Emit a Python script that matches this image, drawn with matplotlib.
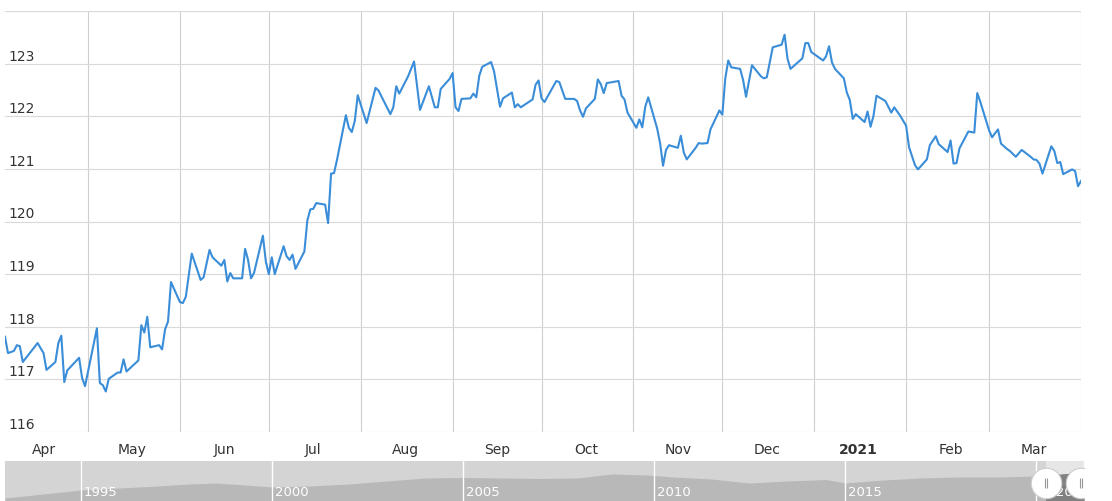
import pandas as pd
import matplotlib.pyplot as plt
import matplotlib.dates as mdates
import matplotlib.transforms as mtransforms
from matplotlib.patches import Rectangle

# price series (Apr 2020 - Apr 2021)
dates = [
    '2020-04-03', '2020-04-04', '2020-04-06', '2020-04-07', '2020-04-08', '2020-04-09', '2020-04-14', '2020-04-16',
    '2020-04-17', '2020-04-20', '2020-04-21', '2020-04-22', '2020-04-23', '2020-04-24', '2020-04-28', '2020-04-29',
    '2020-04-30',
    '2020-05-04', '2020-05-05', '2020-05-06', '2020-05-07', '2020-05-08', '2020-05-11', '2020-05-12', '2020-05-13',
    '2020-05-14', '2020-05-18', '2020-05-19', '2020-05-20', '2020-05-21', '2020-05-22', '2020-05-25', '2020-05-26',
    '2020-05-27', '2020-05-28', '2020-05-29',
    '2020-06-01', '2020-06-02', '2020-06-03', '2020-06-05', '2020-06-08', '2020-06-09', '2020-06-11', '2020-06-12',
    '2020-06-15', '2020-06-16', '2020-06-17', '2020-06-18', '2020-06-19', '2020-06-22', '2020-06-23', '2020-06-24',
    '2020-06-25', '2020-06-26', '2020-06-29', '2020-06-30',
    '2020-07-01', '2020-07-02', '2020-07-03', '2020-07-06', '2020-07-07', '2020-07-08', '2020-07-09', '2020-07-10',
    '2020-07-13', '2020-07-14', '2020-07-15', '2020-07-16', '2020-07-17', '2020-07-20', '2020-07-21', '2020-07-22',
    '2020-07-23', '2020-07-24', '2020-07-27', '2020-07-28', '2020-07-29', '2020-07-30', '2020-07-31',
    '2020-08-03', '2020-08-06', '2020-08-07', '2020-08-11', '2020-08-12', '2020-08-13', '2020-08-14', '2020-08-17',
    '2020-08-19', '2020-08-21', '2020-08-24', '2020-08-26', '2020-08-27', '2020-08-28', '2020-08-31',
    '2020-09-01', '2020-09-02', '2020-09-03', '2020-09-04', '2020-09-07', '2020-09-08', '2020-09-09', '2020-09-10',
    '2020-09-11', '2020-09-14', '2020-09-15', '2020-09-17', '2020-09-18', '2020-09-21', '2020-09-22', '2020-09-23',
    '2020-09-24', '2020-09-28', '2020-09-29', '2020-09-30',
    '2020-10-01', '2020-10-02', '2020-10-06', '2020-10-07', '2020-10-09', '2020-10-12', '2020-10-13', '2020-10-14',
    '2020-10-15', '2020-10-16', '2020-10-19', '2020-10-20', '2020-10-21', '2020-10-22', '2020-10-23', '2020-10-27',
    '2020-10-28', '2020-10-29', '2020-10-30',
    '2020-11-02', '2020-11-03', '2020-11-04', '2020-11-05', '2020-11-06', '2020-11-09', '2020-11-10', '2020-11-11',
    '2020-11-12', '2020-11-13', '2020-11-16', '2020-11-17', '2020-11-18', '2020-11-19', '2020-11-22', '2020-11-23',
    '2020-11-24', '2020-11-26', '2020-11-27', '2020-11-30',
    '2020-12-01', '2020-12-02', '2020-12-03', '2020-12-04', '2020-12-07', '2020-12-08', '2020-12-09', '2020-12-11',
    '2020-12-14', '2020-12-15', '2020-12-16', '2020-12-18', '2020-12-21', '2020-12-22', '2020-12-23', '2020-12-24',
    '2020-12-28', '2020-12-29', '2020-12-30', '2020-12-31',
    '2021-01-04', '2021-01-05', '2021-01-06', '2021-01-07', '2021-01-08', '2021-01-11', '2021-01-12', '2021-01-13',
    '2021-01-14', '2021-01-15', '2021-01-18', '2021-01-19', '2021-01-20', '2021-01-21', '2021-01-22', '2021-01-25',
    '2021-01-27', '2021-01-28', '2021-01-30',
    '2021-02-01', '2021-02-02', '2021-02-04', '2021-02-05', '2021-02-08', '2021-02-09', '2021-02-11', '2021-02-12',
    '2021-02-15', '2021-02-16', '2021-02-17', '2021-02-18', '2021-02-19', '2021-02-22', '2021-02-24', '2021-02-25',
    '2021-02-26',
    '2021-03-01', '2021-03-02', '2021-03-04', '2021-03-05', '2021-03-07', '2021-03-08', '2021-03-10', '2021-03-12',
    '2021-03-15', '2021-03-16', '2021-03-17', '2021-03-18', '2021-03-19', '2021-03-22', '2021-03-23', '2021-03-24',
    '2021-03-25', '2021-03-26', '2021-03-29', '2021-03-30', '2021-03-31', '2021-04-01',
]
values = [
    117.81, 117.50, 117.54, 117.65, 117.63, 117.33, 117.69, 117.50, 117.18, 117.33, 117.69, 117.83, 116.95, 117.17,
    117.41, 117.03, 116.87,
    117.97, 116.93, 116.89, 116.77, 117.01, 117.13, 117.13, 117.38, 117.15, 117.36, 118.03, 117.89, 118.19, 117.61,
    117.65, 117.57, 117.95, 118.10, 118.85,
    118.47, 118.45, 118.57, 119.39, 118.89, 118.94, 119.46, 119.32, 119.16, 119.27, 118.86, 119.02, 118.92, 118.92,
    119.48, 119.27, 118.92, 119.02, 119.73, 119.24,
    119.00, 119.32, 119.00, 119.53, 119.34, 119.27, 119.37, 119.10, 119.43, 120.02, 120.23, 120.24, 120.35, 120.32,
    119.97, 120.91, 120.92, 121.17, 122.02, 121.78, 121.70, 121.91, 122.40,
    121.87, 122.54, 122.49, 122.04, 122.17, 122.57, 122.43, 122.76, 123.04, 122.12, 122.57, 122.17, 122.17, 122.52,
    122.71,
    122.82, 122.17, 122.10, 122.33, 122.34, 122.43, 122.36, 122.77, 122.94, 123.03, 122.85, 122.18, 122.34, 122.45,
    122.17, 122.23, 122.17, 122.32, 122.60, 122.68,
    122.34, 122.27, 122.67, 122.65, 122.33, 122.33, 122.29, 122.11, 121.99, 122.15, 122.33, 122.70, 122.61, 122.44,
    122.63, 122.67, 122.39, 122.32, 122.07,
    121.78, 121.94, 121.79, 122.18, 122.36, 121.77, 121.49, 121.06, 121.36, 121.45, 121.40, 121.63, 121.31, 121.18,
    121.40, 121.49, 121.48, 121.49, 121.75, 122.11,
    122.03, 122.72, 123.06, 122.93, 122.90, 122.69, 122.37, 122.97, 122.76, 122.72, 122.74, 123.31, 123.36, 123.55,
    123.09, 122.90, 123.10, 123.39, 123.39, 123.22,
    123.06, 123.14, 123.33, 123.02, 122.90, 122.72, 122.45, 122.31, 121.95, 122.04, 121.89, 122.09, 121.80, 122.01,
    122.39, 122.29, 122.07, 122.17, 122.01,
    121.82, 121.41, 121.07, 120.99, 121.18, 121.45, 121.62, 121.47, 121.32, 121.54, 121.10, 121.11, 121.39, 121.71,
    121.69, 122.44, 122.28,
    121.73, 121.60, 121.75, 121.48, 121.38, 121.34, 121.23, 121.36, 121.23, 121.18, 121.17, 121.10, 120.91, 121.43,
    121.34, 121.11, 121.13, 120.90, 120.99, 120.96, 120.67, 120.77,
]
y_ticks = [116, 117, 118, 119, 120, 121, 122, 123, 124]

# navigator overview (whole history, height of the grey area in px)
nav_years = [1993.0, 1994.0, 1995.0, 1996.0, 1997.0, 1997.8, 1998.5, 1999.3, 2000.0, 2001.0, 2002.0, 2003.0,
             2004.0, 2005.0, 2006.0, 2007.0, 2008.0, 2008.9, 2009.8, 2010.5, 2011.5, 2012.5, 2013.5, 2014.5,
             2015.0, 2016.0, 2017.0, 2018.0, 2019.0, 2020.0, 2021.26]
nav_height = [3, 7, 11, 13, 15, 17, 18, 16, 14, 15, 17, 20, 23, 23.5, 23, 22.5, 23, 27, 26, 24, 22, 18, 20, 21.5,
              18, 21, 23, 24, 24, 25, 29]
nav_labels = [1995, 2000, 2005, 2010, 2015, 2020]
sel_start, sel_end = 2020.26, 2021.26

dt = pd.to_datetime(dates)
text_col = '#333333'

fig = plt.figure(figsize=(11.12, 5.01), dpi=100)
ax = fig.add_axes([5 / 1112, 69 / 501, 1076 / 1112, 421 / 501])
ax.plot(dt, values, color='#3a8dd8', linewidth=1.5, zorder=3)

ax.set_ylim(116, 124)
ax.set_xlim(pd.Timestamp('2020-04-03'), pd.Timestamp('2021-04-01'))
ax.set_yticks(y_ticks)
ax.yaxis.grid(True, color='#d9d9d9', linewidth=0.8)
ax.tick_params(axis='y', length=0, labelleft=False)

# month boundaries as grid lines, month names centred in between
ax.xaxis.set_major_locator(mdates.MonthLocator())
ax.xaxis.set_major_formatter(plt.NullFormatter())
ax.xaxis.grid(True, which='major', color='#cfcfcf', linewidth=0.8)
mid_locs = mdates.MonthLocator(bymonthday=16).tick_values(dt[0], dt[-1])
mid_labels = ['2021' if mdates.num2date(m).month == 1 else mdates.num2date(m).strftime('%b') for m in mid_locs]
ax.set_xticks(mid_locs, mid_labels, minor=True)
ax.tick_params(axis='x', which='both', length=0)
ax.tick_params(axis='x', which='minor', pad=8, labelsize=10, labelcolor=text_col)
for lab in ax.xaxis.get_minorticklabels():
    if lab.get_text() == '2021':
        lab.set_fontweight('bold')

for s in ax.spines.values():
    s.set_visible(False)

# y labels sit inside the plot, just above their grid line
trans = mtransforms.offset_copy(ax.get_yaxis_transform(), fig=fig, x=3, y=3, units='dots')
for v in y_ticks[:-1]:
    ax.text(0, v, str(v), transform=trans, ha='left', va='baseline', fontsize=10, color=text_col)

# navigator strip at the bottom
nav = fig.add_axes([5 / 1112, 0, 1079 / 1112, 40 / 501])
nav.set_facecolor('#d4d4d4')
nav.set_xlim(1993.0, 2021.26)
nav.set_ylim(0, 40)
nav.fill_between(nav_years, nav_height, color='#b8b8b8', linewidth=0)
nav.axvspan(sel_start, sel_end, color='#e6e6e6', linewidth=0)
sel = Rectangle((sel_start, 0), sel_end - sel_start, 40, transform=nav.transData)
dark = nav.fill_between(nav_years, nav_height, color='#808080', linewidth=0)
dark.set_clip_path(sel)
for yr in nav_labels:
    nav.axvline(yr, color='white', linewidth=1)
    nav.text(yr + 0.07, 9, str(yr), color='white', fontsize=9.5, va='center', ha='left')

# range handles with grip marks
handles = [sel_start, sel_end - 0.07]
nav.plot(handles, [18, 18], linestyle='none', marker='o', markersize=22,
         markerfacecolor='white', markeredgecolor='#cccccc', markeredgewidth=0.8, zorder=5)
for hx in handles:
    nav.plot([hx - 0.03, hx + 0.03], [18, 18], linestyle='none', marker='|', markersize=7,
             color='#999999', markeredgewidth=0.8, zorder=6)
nav.set_xticks([])
nav.set_yticks([])
for s in nav.spines.values():
    s.set_visible(False)

fig.savefig('out.png', dpi=100)
